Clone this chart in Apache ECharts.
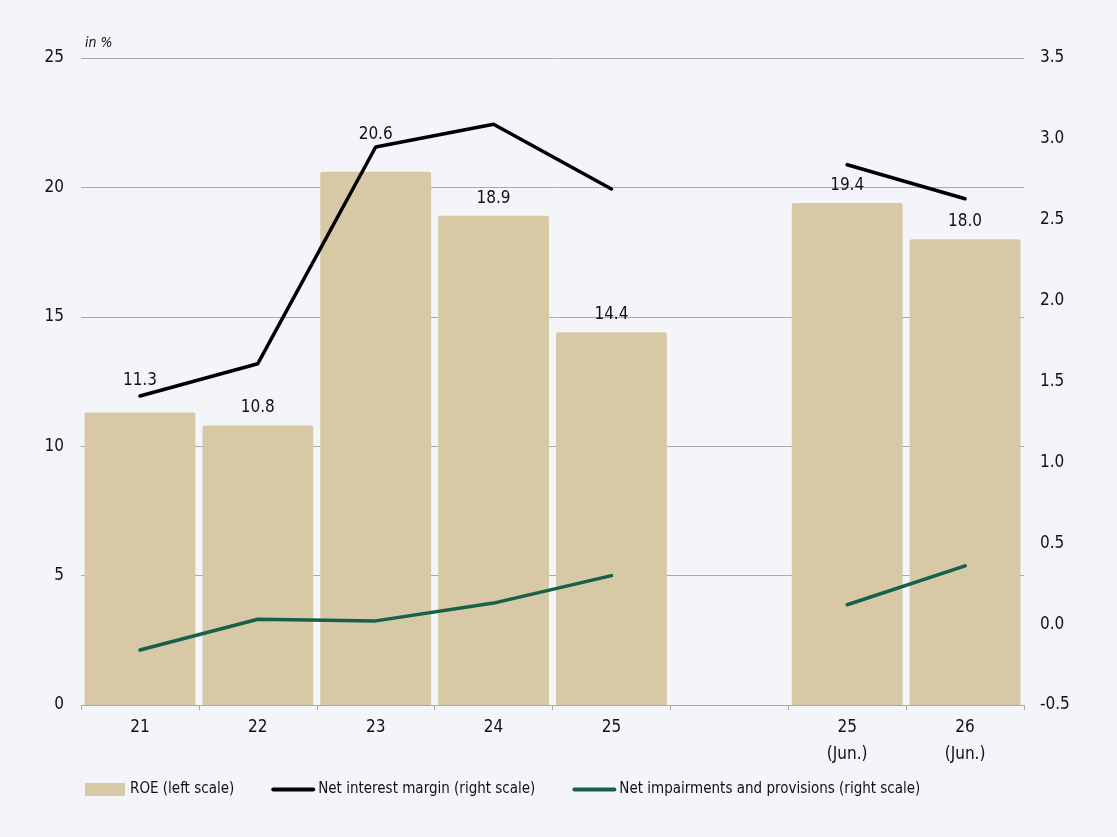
<!DOCTYPE html>
<html>
<head>
<meta charset="utf-8">
<script src="https://cdn.jsdelivr.net/npm/echarts@6/dist/echarts.min.js"></script>
<style>
html,body{margin:0;padding:0;background:#f3f5f9;}
#chart{width:1117px;height:837px;}
</style>
</head>
<body>
<div id="chart"></div>
<script>
const categories = ['21', '22', '23', '24', '25', '', '25\n(Jun.)', '26\n(Jun.)'];
const roe = [11.3, 10.8, 20.6, 18.9, 14.4, null, 19.4, 18.0];
const nim = [1.41, 1.61, 2.95, 3.09, 2.69, null, 2.84, 2.63];
const impairments = [-0.16, 0.03, 0.02, 0.13, 0.30, null, 0.12, 0.36];
const leftTicks = [0, 5, 10, 15, 20, 25];
const rightTicks = [-0.5, 0, 0.5, 1.0, 1.5, 2.0, 2.5, 3.0, 3.5];
// extra label lift (px) where the value label sits above the NIM line
const labelLift = [14, 0, 20, 0, 0, 0, 0, 0];

const FONT = '"Liberation Sans Narrow", "DejaVu Sans Condensed", "Liberation Sans", sans-serif';
const chart = echarts.init(document.getElementById('chart'));

const roeData = roe.map((v, i) => ({
  value: v,
  label: { offset: [0, -labelLift[i]] }
}));

chart.setOption({
  backgroundColor: '#f3f5f9',
  textStyle: { fontFamily: FONT },
  grid: { left: 81, right: 93, top: 58, bottom: 132, containLabel: false },
  graphic: [{
    type: 'text', left: 85, top: 36,
    style: { text: 'in %', font: 'italic 14px ' + FONT, fill: '#111' }
  }],
  legend: {
    left: 85, top: 782, padding: 0,
    itemWidth: 40, itemHeight: 13, itemGap: 37,
    textStyle: { fontFamily: FONT, fontSize: 15, color: '#111', padding: [0, 0, 0, 0] },
    data: [
      { name: 'ROE (left scale)', icon: 'rect' },
      { name: 'Net interest margin (right scale)', itemStyle: { opacity: 0 }, lineStyle: { width: 4, opacity: 1 } },
      { name: 'Net impairments and provisions (right scale)', itemStyle: { opacity: 0 }, lineStyle: { width: 4, opacity: 1 } }
    ]
  },
  xAxis: {
    type: 'category',
    data: categories,
    axisLine: { show: true, lineStyle: { color: '#aaaaaa', width: 1 } },
    axisTick: { show: true, alignWithLabel: false, length: 5, lineStyle: { color: '#aaaaaa' } },
    axisLabel: { fontFamily: FONT, fontSize: 17, color: '#111', margin: 9, lineHeight: 27 }
  },
  yAxis: [{
    type: 'value', min: 0, max: 25, interval: 5, position: 'left',
    axisLine: { show: false }, axisTick: { show: false },
    axisLabel: { fontFamily: FONT, fontSize: 17, color: '#111', margin: 17 },
    splitLine: { show: true, lineStyle: { color: '#aaaaaa', width: 1 } }
  }, {
    type: 'value', min: -0.5, max: 3.5, interval: 0.5, position: 'right',
    axisLine: { show: false }, axisTick: { show: false },
    axisLabel: { fontFamily: FONT, fontSize: 17, color: '#111', margin: 16,
      formatter: v => v.toFixed(1) },
    splitLine: { show: false }
  }],
  series: [{
    name: 'ROE (left scale)',
    type: 'bar',
    yAxisIndex: 0,
    data: roeData,
    barCategoryGap: '6%',
    itemStyle: { color: '#d7c9a5', borderRadius: [2, 2, 0, 0] },
    label: {
      show: true, position: 'top', distance: 9,
      fontFamily: FONT, fontSize: 17, color: '#111',
      formatter: p => p.value == null ? '' : p.value.toFixed(1)
    },
    z: 1
  }, {
    name: 'Net interest margin (right scale)',
    type: 'line',
    yAxisIndex: 1,
    data: nim,
    symbol: 'none',
    connectNulls: false,
    lineStyle: { color: '#000000', width: 3.5, cap: 'round' },
    itemStyle: { color: '#000000' },
    z: 3
  }, {
    name: 'Net impairments and provisions (right scale)',
    type: 'line',
    yAxisIndex: 1,
    data: impairments,
    symbol: 'none',
    connectNulls: false,
    lineStyle: { color: '#17604a', width: 3.5, cap: 'round' },
    itemStyle: { color: '#17604a' },
    z: 3
  }]
});
</script>
</body>
</html>
